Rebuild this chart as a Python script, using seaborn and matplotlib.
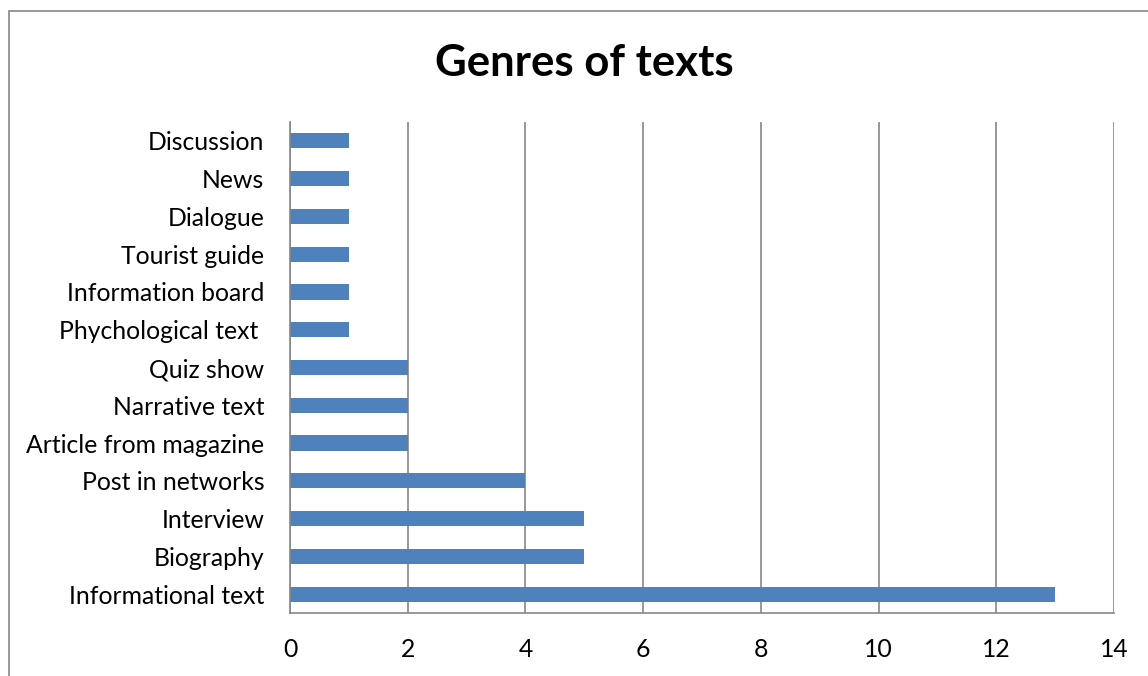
import pandas as pd
import seaborn as sns
import matplotlib.pyplot as plt
from matplotlib.patches import Rectangle
import numpy as np

# Data (top to bottom as shown)
genres = ["Discussion", "News", "Dialogue", "Tourist guide", "Information board",
          "Phychological text ", "Quiz show", "Narrative text", "Article from magazine",
          "Post in networks", "Interview", "Biography", "Informational text"]
counts = [1, 1, 1, 1, 1, 1, 2, 2, 2, 4, 5, 5, 13]
x_ticks = [0, 2, 4, 6, 8, 10, 12, 14]

df = pd.DataFrame({"genre": genres, "count": counts})

sns.set_style("white")
plt.rcParams["font.family"] = ["Lato", "DejaVu Sans"]
plt.rcParams["text.color"] = "black"
plt.rcParams["xtick.labelcolor"] = "black"
plt.rcParams["ytick.labelcolor"] = "black"

grid_col = "#868686"

fig = plt.figure(figsize=(11.48, 6.76), dpi=100)
ax = fig.add_axes([0.2526, 0.0932, 0.7178, 0.7263])

sns.barplot(data=df, x="count", y="genre", orient="h", color="#4F81BD",
            saturation=1, width=0.4, linewidth=0, ax=ax)

ax.set_xlim(0, 14)
ax.set_ylim(len(genres) - 0.5, -0.5)
ax.set_xticks(x_ticks)
ax.set_xticklabels([str(t) for t in x_ticks], fontsize=17.8)
ax.set_xlabel("")
ax.set_ylabel("")

ax.xaxis.grid(True, color=grid_col, linewidth=1.2)
ax.set_axisbelow(True)

# category tick marks between bars, like Excel
ax.set_yticks(np.arange(len(genres)))
ax.set_yticklabels(genres, fontsize=17.8)
ax.set_yticks(np.arange(len(genres) + 1) - 0.5, minor=True)
ax.tick_params(axis="y", which="major", length=0, pad=18.5)
ax.tick_params(axis="y", which="minor", length=7, color=grid_col, width=1.2, direction="out")
ax.tick_params(axis="x", length=7, color=grid_col, width=1.2, direction="out", pad=11)

for side in ["top", "right"]:
    ax.spines[side].set_visible(False)
for side in ["left", "bottom"]:
    ax.spines[side].set_color(grid_col)
    ax.spines[side].set_linewidth(1.2)

fig.text(0.509, 0.907, "Genres of texts", ha="center", va="center",
         fontsize=31.5, fontweight="bold")

# chart border
fig.patches.append(Rectangle((9 / 1148, -0.05), 1.2, 1 - 11 / 676 + 0.05,
                             transform=fig.transFigure, fill=False,
                             edgecolor=grid_col, linewidth=1.2))

fig.savefig("out.png", dpi=100)
